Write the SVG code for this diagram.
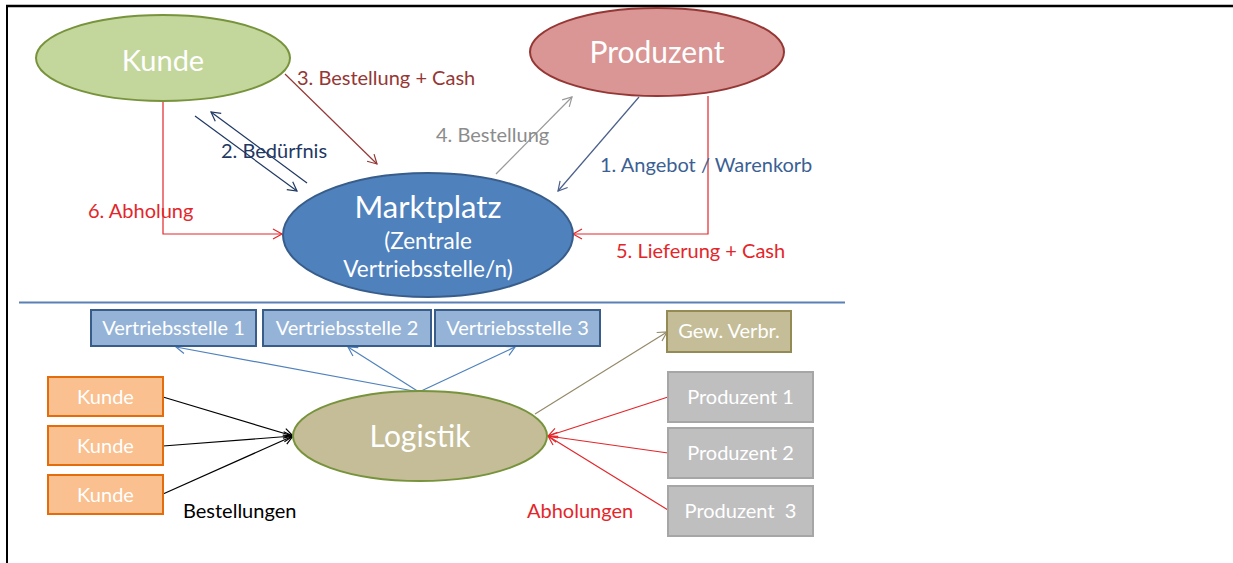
<svg xmlns="http://www.w3.org/2000/svg" width="1233" height="563" viewBox="0 0 1233 563">
<style>
.t{font-family:Lato,"Liberation Sans",sans-serif}
.w{fill:#fff}
.c{text-anchor:middle}
.l{fill:none;stroke-width:1.2}
</style>
<defs>
<marker id="mRed" markerWidth="12" markerHeight="12" refX="10" refY="6" orient="auto" markerUnits="userSpaceOnUse"><path d="M1,1 L10,6 L1,11" fill="none" stroke="#e3262a" stroke-width="1.2"/></marker>
<marker id="mDred" markerWidth="12" markerHeight="12" refX="10" refY="6" orient="auto" markerUnits="userSpaceOnUse"><path d="M1,1 L10,6 L1,11" fill="none" stroke="#953735" stroke-width="1.2"/></marker>
<marker id="mNavy" markerWidth="12" markerHeight="12" refX="10" refY="6" orient="auto" markerUnits="userSpaceOnUse"><path d="M1,1 L10,6 L1,11" fill="none" stroke="#1f3864" stroke-width="1.2"/></marker>
<marker id="mSlate" markerWidth="12" markerHeight="12" refX="10" refY="6" orient="auto" markerUnits="userSpaceOnUse"><path d="M1,1 L10,6 L1,11" fill="none" stroke="#4a5f8a" stroke-width="1.2"/></marker>
<marker id="mGray" markerWidth="12" markerHeight="12" refX="10" refY="6" orient="auto" markerUnits="userSpaceOnUse"><path d="M1,1 L10,6 L1,11" fill="none" stroke="#9a9a9a" stroke-width="1.2"/></marker>
<marker id="mBlue" markerWidth="12" markerHeight="12" refX="10" refY="6" orient="auto" markerUnits="userSpaceOnUse"><path d="M1,1 L10,6 L1,11" fill="none" stroke="#4f81bd" stroke-width="1.2"/></marker>
<marker id="mOlive" markerWidth="12" markerHeight="12" refX="10" refY="6" orient="auto" markerUnits="userSpaceOnUse"><path d="M1,1 L10,6 L1,11" fill="none" stroke="#948a6a" stroke-width="1.2"/></marker>
<marker id="mBlack" markerWidth="12" markerHeight="12" refX="10" refY="6" orient="auto" markerUnits="userSpaceOnUse"><path d="M1,1 L10,6 L1,11" fill="none" stroke="#000" stroke-width="1.2"/></marker>
</defs>
<rect x="0" y="0" width="1233" height="563" fill="#fff"/>
<g id="frame">
<line x1="6" y1="6" x2="1233" y2="6" stroke="#000" stroke-width="2.5"/>
<line x1="7" y1="5" x2="7" y2="563" stroke="#000" stroke-width="2"/>
</g>
<g id="divider"><line x1="19" y1="302.5" x2="845" y2="302.5" stroke="#5a80b5" stroke-width="2"/></g>

<g id="connectors">
<line class="l" x1="285" y1="74" x2="377" y2="164" stroke="#953735" marker-end="url(#mDred)"/>
<line class="l" x1="195" y1="116" x2="297" y2="191" stroke="#1f3864" marker-end="url(#mNavy)"/>
<line class="l" x1="307" y1="183" x2="211" y2="112" stroke="#1f3864" marker-end="url(#mNavy)"/>
<polyline class="l" points="163,102 163,234 282,234" stroke="#e3262a" marker-end="url(#mRed)"/>
<line class="l" x1="496" y1="174" x2="572" y2="97" stroke="#9a9a9a" marker-end="url(#mGray)"/>
<line class="l" x1="639" y1="97" x2="558" y2="191" stroke="#4a5f8a" marker-end="url(#mSlate)"/>
<polyline class="l" points="708,96 708,234 573,234" stroke="#e3262a" marker-end="url(#mRed)"/>

<line class="l" x1="419" y1="392" x2="176" y2="347" stroke="#4f81bd" marker-end="url(#mBlue)"/>
<line class="l" x1="419" y1="392" x2="348" y2="347" stroke="#4f81bd" marker-end="url(#mBlue)"/>
<line class="l" x1="419" y1="392" x2="515" y2="347" stroke="#4f81bd" marker-end="url(#mBlue)"/>
<line class="l" x1="535" y1="414" x2="667" y2="332" stroke="#948a6a" marker-end="url(#mOlive)"/>
<line class="l" x1="163" y1="397" x2="293" y2="436" stroke="#000" marker-end="url(#mBlack)"/>
<line class="l" x1="163" y1="446" x2="293" y2="436" stroke="#000" marker-end="url(#mBlack)"/>
<line class="l" x1="163" y1="494" x2="293" y2="436" stroke="#000" marker-end="url(#mBlack)"/>
<line class="l" x1="668" y1="397" x2="548" y2="436" stroke="#e3262a" marker-end="url(#mRed)"/>
<line class="l" x1="668" y1="453" x2="548" y2="436" stroke="#e3262a" marker-end="url(#mRed)"/>
<line class="l" x1="668" y1="510" x2="548" y2="436" stroke="#e3262a" marker-end="url(#mRed)"/>
</g>

<g id="labels" class="t" font-size="20">
<text x="297" y="85" fill="#953735">3. Bestellung + Cash</text>
<text x="221" y="158" fill="#1f3864">2. Bedürfnis</text>
<text x="88" y="218" fill="#e3262a">6. Abholung</text>
<text x="436" y="142" fill="#8c8c8c">4. Bestellung</text>
<text x="600" y="172" fill="#3c5f94">1. Angebot / Warenkorb</text>
<text x="616" y="258" fill="#e3262a">5. Lieferung + Cash</text>
<text x="183" y="518" fill="#000">Bestellungen</text>
<text x="527" y="518" fill="#e3262a">Abholungen</text>
</g>

<g id="kunde">
<ellipse cx="163" cy="58" rx="127" ry="43" fill="#c3d69b" stroke="#77933c" stroke-width="2"/>
<text class="t w c" x="163" y="71" font-size="29">Kunde</text>
</g>
<g id="produzent">
<ellipse cx="657" cy="52" rx="127" ry="44" fill="#d99694" stroke="#953735" stroke-width="2"/>
<text class="t w c" x="657" y="63" font-size="30">Produzent</text>
</g>
<g id="marktplatz">
<ellipse cx="428" cy="235" rx="145" ry="62" fill="#4f81bd" stroke="#385d8a" stroke-width="2"/>
<text class="t w c" x="428" y="218" font-size="31">Marktplatz</text>
<text class="t w c" x="428" y="249" font-size="22.5">(Zentrale</text>
<text class="t w c" x="428" y="277" font-size="22.5">Vertriebsstelle/n)</text>
</g>

<g id="vs1"><rect x="91" y="310" width="165" height="36" fill="#95b3d7" stroke="#385d8a" stroke-width="2"/><text class="t w c" x="173.5" y="335" font-size="20">Vertriebsstelle 1</text></g>
<g id="vs2"><rect x="263" y="310" width="168" height="36" fill="#95b3d7" stroke="#385d8a" stroke-width="2"/><text class="t w c" x="347" y="335" font-size="20">Vertriebsstelle 2</text></g>
<g id="vs3"><rect x="435" y="310" width="165" height="36" fill="#95b3d7" stroke="#385d8a" stroke-width="2"/><text class="t w c" x="517.5" y="335" font-size="20">Vertriebsstelle 3</text></g>

<g id="gew"><rect x="667" y="311" width="124" height="41" fill="#c4bd97" stroke="#948a54" stroke-width="2"/><text class="t w c" x="729" y="338" font-size="20">Gew. Verbr.</text></g>

<g id="kunde1"><rect x="48" y="377" width="115" height="39" fill="#fac090" stroke="#e46c0a" stroke-width="2"/><text class="t w c" x="105.5" y="404" font-size="20">Kunde</text></g>
<g id="kunde2"><rect x="48" y="426" width="115" height="39" fill="#fac090" stroke="#e46c0a" stroke-width="2"/><text class="t w c" x="105.5" y="453" font-size="20">Kunde</text></g>
<g id="kunde3"><rect x="48" y="475" width="115" height="39" fill="#fac090" stroke="#e46c0a" stroke-width="2"/><text class="t w c" x="105.5" y="502" font-size="20">Kunde</text></g>

<g id="logistik">
<ellipse cx="420" cy="436" rx="127" ry="45" fill="#c4bd97" stroke="#77933c" stroke-width="2"/>
<text class="t w c" x="420" y="447" font-size="30">Logistik</text>
</g>

<g id="p1"><rect x="668" y="372" width="145" height="50" fill="#bfbfbf" stroke="#a6a6a6" stroke-width="2"/><text class="t w c" x="740.5" y="404" font-size="20">Produzent 1</text></g>
<g id="p2"><rect x="668" y="428" width="145" height="50" fill="#bfbfbf" stroke="#a6a6a6" stroke-width="2"/><text class="t w c" x="740.5" y="460" font-size="20">Produzent 2</text></g>
<g id="p3"><rect x="668" y="486" width="145" height="50" fill="#bfbfbf" stroke="#a6a6a6" stroke-width="2"/><text class="t w c" x="740.5" y="518" font-size="20" xml:space="preserve">Produzent  3</text></g>
</svg>
